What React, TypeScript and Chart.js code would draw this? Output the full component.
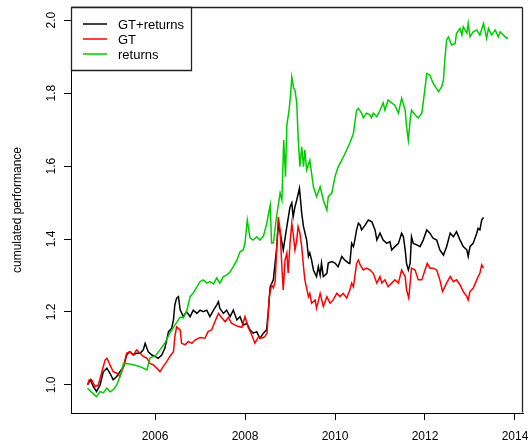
import React, { useEffect, useRef } from "react";
import { Chart, registerables } from "chart.js";

Chart.register(...registerables);

// ---- data ----
const seriesNames = ["GT+returns", "GT", "returns"];
const seriesColors = ["#000000", "#FF0000", "#00CD00"];

const xTicks = [2006, 2008, 2010, 2012, 2014];
const yTicks = [1.0, 1.2, 1.4, 1.6, 1.8, 2.0];

const gtRetDates = [
  2004.50, 2004.56, 2004.63, 2004.70, 2004.78, 2004.85, 2004.93, 2005.00, 2005.07, 2005.15,
  2005.22, 2005.30, 2005.37, 2005.44, 2005.52, 2005.59, 2005.67, 2005.74, 2005.78, 2005.85,
  2005.93, 2006.00, 2006.07, 2006.15, 2006.22, 2006.30, 2006.37, 2006.41, 2006.44, 2006.48,
  2006.52, 2006.56, 2006.63, 2006.70, 2006.78, 2006.85, 2006.93, 2007.00, 2007.07, 2007.15,
  2007.22, 2007.30, 2007.37, 2007.41, 2007.44, 2007.52, 2007.59, 2007.67, 2007.74, 2007.82,
  2007.89, 2007.96, 2008.04, 2008.11, 2008.18, 2008.26, 2008.33, 2008.41, 2008.48, 2008.52,
  2008.56, 2008.63, 2008.70, 2008.74, 2008.78, 2008.85, 2008.93, 2009.00, 2009.04, 2009.07,
  2009.11, 2009.15, 2009.21, 2009.24, 2009.26, 2009.30, 2009.37, 2009.41, 2009.44, 2009.48,
  2009.52, 2009.59, 2009.63, 2009.67, 2009.70, 2009.74, 2009.82, 2009.85, 2009.93, 2010.00,
  2010.07, 2010.15, 2010.22, 2010.30, 2010.33, 2010.37, 2010.41, 2010.44, 2010.48, 2010.52,
  2010.56, 2010.59, 2010.67, 2010.74, 2010.82, 2010.89, 2010.93, 2011.00, 2011.07, 2011.15,
  2011.22, 2011.26, 2011.33, 2011.41, 2011.48, 2011.52, 2011.56, 2011.59, 2011.63, 2011.67,
  2011.70, 2011.74, 2011.82, 2011.89, 2011.96, 2012.04, 2012.11, 2012.18, 2012.26, 2012.33,
  2012.41, 2012.48, 2012.56, 2012.63, 2012.70, 2012.78, 2012.85, 2012.93, 2012.96, 2013.00,
  2013.07, 2013.15, 2013.18, 2013.22, 2013.26, 2013.30,
];
const gtRetValues = [
  1.000, 1.014, 0.995, 0.982, 1.000, 1.036, 1.046, 1.032, 1.014, 1.023,
  1.036, 1.050, 1.082, 1.091, 1.082, 1.087, 1.087, 1.096, 1.114, 1.091,
  1.082, 1.078, 1.073, 1.082, 1.101, 1.146, 1.155, 1.178, 1.219, 1.238,
  1.242, 1.205, 1.187, 1.201, 1.187, 1.205, 1.196, 1.205, 1.201, 1.205,
  1.187, 1.205, 1.219, 1.228, 1.210, 1.196, 1.205, 1.187, 1.205, 1.178,
  1.187, 1.164, 1.169, 1.151, 1.142, 1.146, 1.128, 1.142, 1.151, 1.205,
  1.269, 1.288, 1.370, 1.438, 1.419, 1.370, 1.434, 1.488, 1.499, 1.461,
  1.488, 1.507, 1.539, 1.499, 1.470, 1.434, 1.397, 1.352, 1.362, 1.342,
  1.315, 1.297, 1.324, 1.301, 1.334, 1.297, 1.306, 1.334, 1.338, 1.334,
  1.324, 1.352, 1.342, 1.334, 1.333, 1.388, 1.379, 1.397, 1.425, 1.443,
  1.438, 1.425, 1.438, 1.452, 1.447, 1.425, 1.397, 1.416, 1.397, 1.388,
  1.393, 1.370, 1.379, 1.388, 1.416, 1.406, 1.370, 1.333, 1.315, 1.333,
  1.406, 1.388, 1.384, 1.379, 1.397, 1.425, 1.416, 1.402, 1.397, 1.370,
  1.356, 1.379, 1.416, 1.406, 1.420, 1.397, 1.379, 1.370, 1.352, 1.379,
  1.388, 1.416, 1.429, 1.425, 1.452, 1.459,
];

const gtDates = [
  2004.50, 2004.54, 2004.59, 2004.67, 2004.74, 2004.82, 2004.89, 2004.93, 2005.00, 2005.07,
  2005.15, 2005.22, 2005.30, 2005.37, 2005.44, 2005.52, 2005.59, 2005.67, 2005.74, 2005.82,
  2005.89, 2005.96, 2006.04, 2006.11, 2006.18, 2006.26, 2006.33, 2006.41, 2006.44, 2006.48,
  2006.56, 2006.59, 2006.67, 2006.74, 2006.82, 2006.89, 2007.00, 2007.11, 2007.18, 2007.26,
  2007.33, 2007.41, 2007.48, 2007.56, 2007.63, 2007.70, 2007.78, 2007.85, 2007.93, 2008.00,
  2008.07, 2008.15, 2008.22, 2008.30, 2008.37, 2008.44, 2008.49, 2008.54, 2008.59, 2008.63,
  2008.67, 2008.70, 2008.74, 2008.78, 2008.82, 2008.85, 2008.89, 2008.93, 2008.96, 2009.00,
  2009.04, 2009.07, 2009.11, 2009.15, 2009.18, 2009.22, 2009.26, 2009.30, 2009.33, 2009.41,
  2009.44, 2009.48, 2009.56, 2009.59, 2009.67, 2009.74, 2009.82, 2009.89, 2009.96, 2010.04,
  2010.11, 2010.18, 2010.26, 2010.33, 2010.37, 2010.41, 2010.44, 2010.48, 2010.52, 2010.56,
  2010.63, 2010.70, 2010.78, 2010.85, 2010.93, 2011.00, 2011.04, 2011.11, 2011.18, 2011.26,
  2011.33, 2011.41, 2011.48, 2011.56, 2011.59, 2011.64, 2011.70, 2011.78, 2011.85, 2011.93,
  2012.00, 2012.05, 2012.11, 2012.18, 2012.26, 2012.33, 2012.39, 2012.48, 2012.56, 2012.63,
  2012.70, 2012.78, 2012.85, 2012.93, 2012.96, 2013.00, 2013.07, 2013.15, 2013.18, 2013.22,
  2013.26, 2013.30,
];
const gtValues = [
  1.000, 1.014, 1.014, 0.995, 1.000, 1.036, 1.068, 1.073, 1.055, 1.036,
  1.032, 1.023, 1.050, 1.087, 1.091, 1.082, 1.096, 1.087, 1.078, 1.073,
  1.059, 1.055, 1.046, 1.036, 1.050, 1.064, 1.078, 1.091, 1.132, 1.159,
  1.151, 1.114, 1.110, 1.119, 1.114, 1.123, 1.130, 1.128, 1.146, 1.151,
  1.173, 1.196, 1.185, 1.173, 1.185, 1.169, 1.164, 1.160, 1.158, 1.187,
  1.158, 1.137, 1.114, 1.132, 1.128, 1.132, 1.142, 1.242, 1.274, 1.266,
  1.283, 1.361, 1.461, 1.425, 1.321, 1.260, 1.342, 1.361, 1.306, 1.388,
  1.443, 1.416, 1.370, 1.397, 1.434, 1.416, 1.379, 1.324, 1.288, 1.242,
  1.251, 1.224, 1.233, 1.210, 1.251, 1.215, 1.242, 1.224, 1.233, 1.251,
  1.242, 1.251, 1.238, 1.260, 1.279, 1.269, 1.297, 1.333, 1.342, 1.329,
  1.315, 1.320, 1.315, 1.306, 1.279, 1.297, 1.279, 1.288, 1.269, 1.279,
  1.288, 1.279, 1.315, 1.297, 1.260, 1.238, 1.320, 1.315, 1.288, 1.288,
  1.315, 1.333, 1.320, 1.320, 1.315, 1.288, 1.256, 1.279, 1.297, 1.283,
  1.288, 1.274, 1.256, 1.242, 1.233, 1.256, 1.265, 1.288, 1.297, 1.306,
  1.329, 1.320,
];

const retDates = [
  2004.50, 2004.58, 2004.70, 2004.78, 2004.85, 2004.93, 2005.00, 2005.07, 2005.15, 2005.22,
  2005.30, 2005.40, 2005.52, 2005.67, 2005.82, 2005.89, 2006.00, 2006.11, 2006.22, 2006.33,
  2006.44, 2006.56, 2006.63, 2006.71, 2006.78, 2006.85, 2007.00, 2007.07, 2007.15, 2007.22,
  2007.30, 2007.37, 2007.44, 2007.52, 2007.59, 2007.67, 2007.74, 2007.82, 2007.89, 2007.96,
  2008.00, 2008.05, 2008.11, 2008.18, 2008.26, 2008.33, 2008.41, 2008.48, 2008.56, 2008.59,
  2008.63, 2008.70, 2008.78, 2008.82, 2008.86, 2008.90, 2008.93, 2008.98, 2009.02, 2009.04,
  2009.08, 2009.11, 2009.15, 2009.18, 2009.22, 2009.26, 2009.30, 2009.33, 2009.37, 2009.44,
  2009.52, 2009.59, 2009.67, 2009.74, 2009.82, 2009.85, 2009.93, 2010.00, 2010.07, 2010.15,
  2010.26, 2010.33, 2010.41, 2010.48, 2010.52, 2010.59, 2010.63, 2010.70, 2010.78, 2010.81,
  2010.85, 2010.93, 2011.00, 2011.07, 2011.11, 2011.18, 2011.26, 2011.33, 2011.41, 2011.48,
  2011.56, 2011.59, 2011.63, 2011.67, 2011.70, 2011.78, 2011.85, 2011.93, 2011.96, 2012.04,
  2012.11, 2012.18, 2012.30, 2012.37, 2012.41, 2012.44, 2012.48, 2012.52, 2012.59, 2012.67,
  2012.70, 2012.78, 2012.82, 2012.85, 2012.93, 2012.96, 2013.00, 2013.07, 2013.15, 2013.22,
  2013.30, 2013.37, 2013.41, 2013.48, 2013.56, 2013.63, 2013.67, 2013.74, 2013.82, 2013.83,
];
const retValues = [
  0.991, 0.981, 0.968, 0.982, 0.978, 0.991, 0.981, 0.986, 1.000, 1.023,
  1.059, 1.058, 1.055, 1.050, 1.041, 1.074, 1.079, 1.096, 1.115, 1.142,
  1.164, 1.186, 1.184, 1.205, 1.242, 1.252, 1.283, 1.288, 1.279, 1.283,
  1.277, 1.293, 1.279, 1.297, 1.301, 1.310, 1.324, 1.342, 1.365, 1.370,
  1.389, 1.452, 1.403, 1.397, 1.406, 1.397, 1.408, 1.441, 1.493, 1.389,
  1.389, 1.461, 1.526, 1.507, 1.671, 1.571, 1.712, 1.753, 1.808, 1.844,
  1.814, 1.808, 1.773, 1.680, 1.598, 1.653, 1.598, 1.644, 1.589, 1.616,
  1.543, 1.516, 1.543, 1.507, 1.479, 1.516, 1.526, 1.571, 1.598, 1.616,
  1.644, 1.663, 1.690, 1.753, 1.758, 1.745, 1.732, 1.745, 1.740, 1.732,
  1.745, 1.735, 1.753, 1.773, 1.753, 1.781, 1.773, 1.767, 1.745, 1.786,
  1.753, 1.708, 1.671, 1.726, 1.753, 1.740, 1.732, 1.745, 1.773, 1.854,
  1.849, 1.827, 1.804, 1.817, 1.836, 1.890, 1.945, 1.954, 1.932, 1.936,
  1.964, 1.977, 1.959, 1.982, 1.964, 1.991, 1.954, 1.968, 1.973, 1.959,
  1.991, 1.950, 1.977, 1.959, 1.973, 1.954, 1.968, 1.959, 1.950, 1.954,
];

const xMin = 2004.133;
const xMax = 2014.178;
const yMin = 0.923;
const yMax = 2.036;

const FONT = '"Liberation Sans", Arial, Helvetica, sans-serif';

const framePlugin = {
  id: "rframe",
  afterDraw(chart: any) {
    const ctx = chart.ctx;
    const xs = chart.scales.x;
    const ys = chart.scales.y;
    const left = xs.left;
    const right = xs.right;
    const top = ys.top;
    const bottom = ys.bottom;
    ctx.save();
    ctx.setLineDash([]);
    ctx.strokeStyle = "#222222";
    ctx.lineWidth = 1.3;
    const L = Math.round(left) + 0.5;
    const T = Math.round(top) + 0.5;
    const R = Math.round(right) - 0.5;
    const B = Math.round(bottom) - 0.5;
    ctx.beginPath();
    ctx.moveTo(L, T);
    ctx.lineTo(R, T);
    ctx.moveTo(R, T);
    ctx.lineTo(R, B);
    ctx.stroke();

    // legend box (top-left inside the plot)
    const bw = 120;
    const bh = 63;
    ctx.fillStyle = "#fff";
    ctx.fillRect(L, T, bw, bh);
    ctx.beginPath();
    ctx.rect(L, T, bw, bh);
    ctx.stroke();
    ctx.font = `13px ${FONT}`;
    ctx.textBaseline = "middle";
    ctx.textAlign = "left";
    chart.data.datasets.forEach((ds: any, i: number) => {
      const y = Math.round(top) + 17 + i * 15;
      ctx.strokeStyle = ds.borderColor;
      ctx.lineWidth = 1.5;
      ctx.beginPath();
      ctx.moveTo(left + 12, y);
      ctx.lineTo(left + 36, y);
      ctx.stroke();
      ctx.fillStyle = "#000";
      ctx.fillText(ds.label, left + 47, y + 1);
    });
    ctx.restore();
  },
};

function toPoints(xs: number[], ys: number[]) {
  return xs.map((x, i) => ({ x, y: ys[i] }));
}

export default function App() {
  const ref = useRef<HTMLCanvasElement | null>(null);

  useEffect(() => {
    const canvas = ref.current;
    if (!canvas) return;
    const chart = new Chart(canvas, {
      type: "line",
      data: {
        datasets: [
          {
            label: seriesNames[0],
            data: toPoints(gtRetDates, gtRetValues),
            borderColor: seriesColors[0],
            backgroundColor: seriesColors[0],
            borderWidth: 1.5,
            pointRadius: 0,
            tension: 0,
            order: 3,
          },
          {
            label: seriesNames[1],
            data: toPoints(gtDates, gtValues),
            borderColor: seriesColors[1],
            backgroundColor: seriesColors[1],
            borderWidth: 1.5,
            pointRadius: 0,
            tension: 0,
            order: 2,
          },
          {
            label: seriesNames[2],
            data: toPoints(retDates, retValues),
            borderColor: seriesColors[2],
            backgroundColor: seriesColors[2],
            borderWidth: 1.5,
            pointRadius: 0,
            tension: 0,
            order: 1,
          },
        ],
      },
      options: {
        responsive: false,
        animation: false,
        devicePixelRatio: 1,
        layout: { padding: { left: 0, top: 7, right: 5, bottom: 0 } },
        plugins: {
          legend: { display: false },
          tooltip: { enabled: false },
        },
        scales: {
          x: {
            type: "linear",
            min: xMin,
            max: xMax,
            afterBuildTicks: (s: any) => {
              s.ticks = xTicks.map((v) => ({ value: v }));
            },
            afterFit: (s: any) => {
              s.height = 31;
              s.paddingLeft = 0;
              s.paddingRight = 0;
            },
            grid: { drawOnChartArea: false, drawTicks: true, tickLength: 7, color: "#000", lineWidth: 1 },
            border: { display: true, color: "#000", width: 1 },
            ticks: {
              color: "#000",
              font: { family: FONT, size: 12 },
              padding: 9,
              minRotation: 0,
              maxRotation: 0,
              autoSkip: false,
              callback: (v: any) => String(v),
            },
          },
          y: {
            type: "linear",
            min: yMin,
            max: yMax,
            afterBuildTicks: (s: any) => {
              s.ticks = yTicks.map((v) => ({ value: v }));
            },
            afterFit: (s: any) => {
              s.width = 71;
              s.paddingTop = 0;
              s.paddingBottom = 0;
            },
            grid: { drawOnChartArea: false, drawTicks: true, tickLength: 7, color: "#000", lineWidth: 1 },
            border: { display: true, color: "#000", width: 1 },
            ticks: {
              color: "#000",
              font: { family: FONT, size: 12 },
              padding: 4,
              minRotation: 90,
              maxRotation: 90,
              crossAlign: "center",
              autoSkip: false,
              callback: (v: any) => Number(v).toFixed(1),
            },
            title: {
              display: true,
              text: "cumulated performance",
              color: "#000",
              font: { family: FONT, size: 12 },
              padding: { top: 10, bottom: 0 },
            },
          },
        },
      },
      plugins: [framePlugin],
    } as any);
    return () => chart.destroy();
  }, []);

  return (
    <div style={{ position: "fixed", left: 0, top: 0, width: 528, height: 444, background: "#fff" }}>
      <canvas ref={ref} width={528} height={444} style={{ display: "block", width: 528, height: 444 }} />
    </div>
  );
}
